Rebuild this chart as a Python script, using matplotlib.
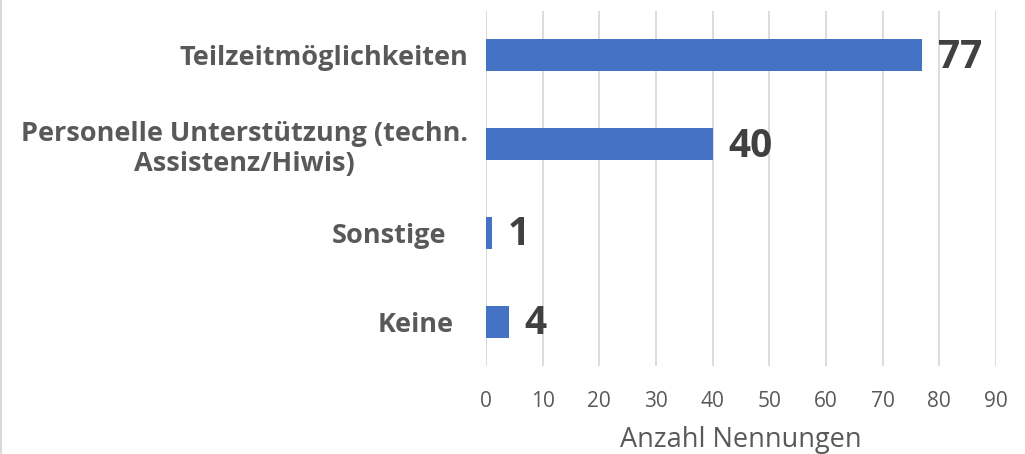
import matplotlib
matplotlib.use("Agg")
import matplotlib.pyplot as plt
from matplotlib.lines import Line2D
from matplotlib.transforms import ScaledTranslation

categories = ["Teilzeitmöglichkeiten",
              "Personelle Unterstützung (techn.\nAssistenz/Hiwis)",
              "Sonstige",
              "Keine"]
values = [77, 40, 1, 4]
xticks = [0, 10, 20, 30, 40, 50, 60, 70, 80, 90]
xlabel = "Anzahl Nennungen"

plt.rcParams['font.family'] = ['Open Sans', 'DejaVu Sans']

fig = plt.figure(figsize=(10.25, 4.54), dpi=100)
ax = fig.add_axes([486/1025, 1-366/454, (996-486)/1025, (366-11)/454])

ypos = list(range(len(categories)))
ax.barh(ypos, values, height=0.36, color="#4472C4", zorder=3)
ax.set_ylim(len(categories)-0.5, -0.5)
ax.set_xlim(0, 90)
ax.set_xticks(xticks)
ax.set_xticklabels([str(t) for t in xticks], fontsize=15, color="#595959")
ax.set_yticks(ypos)
ax.set_yticklabels(categories, fontsize=19.5, fontweight="bold", color="#595959",
                   multialignment="center", linespacing=1.2)
ax.tick_params(axis="y", length=0, pad=13)
ax.tick_params(axis="x", length=0, pad=18)
ax.grid(axis="x", color="#D9D9D9", linewidth=1.3, zorder=0)
for s in ax.spines.values():
    s.set_visible(False)

label_shift_px = [0, 0, 22, 14]
for lab, dx in zip(ax.get_yticklabels(), label_shift_px):
    lab.set_transform(lab.get_transform() + ScaledTranslation(-dx/100, 0, fig.dpi_scale_trans))

for y, v in zip(ypos, values):
    ax.annotate(str(v), xy=(v, y), xytext=(16, -2), textcoords="offset pixels",
                ha="left", va="center", fontsize=28, fontweight="bold", color="#404040")

ax.set_xlabel(xlabel, fontsize=19.5, color="#595959", labelpad=10)

fig.add_artist(Line2D([1/1025, 1/1025], [0, 1], transform=fig.transFigure,
                      color="#D9D9D9", linewidth=1.5))

fig.savefig("out.png", dpi=100, facecolor="white")
